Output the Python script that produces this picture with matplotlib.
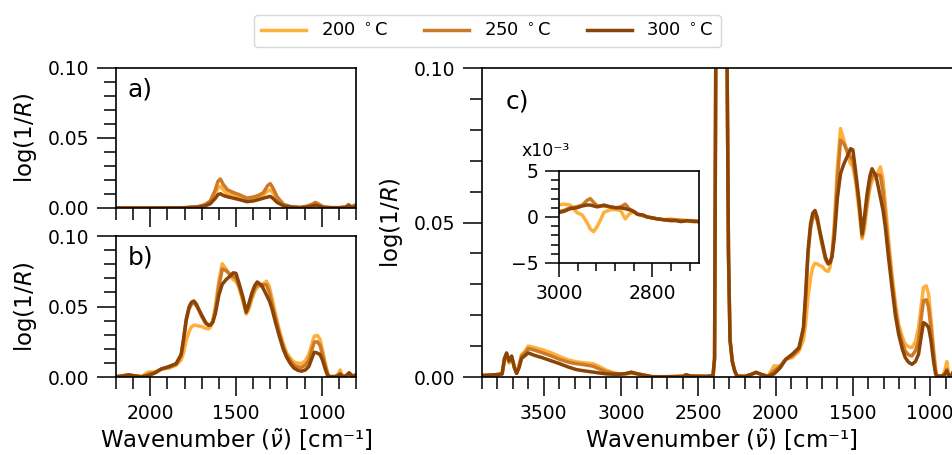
import matplotlib
matplotlib.use("Agg")
import matplotlib.pyplot as plt
from matplotlib.ticker import MultipleLocator, FormatStrFormatter

# series colours / labels
labels = ['200 $^\\circ$C', '250 $^\\circ$C', '300 $^\\circ$C']
colors = ['#FFB03B', '#CC7A28', '#8B4406']

# panel a) (separate measurement, 2200-800 cm-1)
wn_a = [2200, 2000, 1800, 1720, 1680, 1650, 1620, 1605, 1591, 1575, 1550, 1514, 1480,
        1436, 1400, 1368, 1340, 1315, 1300, 1285, 1260, 1222, 1180, 1125, 1080, 1050,
        1037, 1020, 990, 950, 900, 860, 843, 825, 800]
a_200 = [0, 0, 0.0002, 0.0008, 0.002, 0.004, 0.010, 0.014, 0.0155, 0.013, 0.010, 0.0095,
         0.008, 0.006, 0.007, 0.008, 0.0095, 0.012, 0.013, 0.011, 0.006, 0.002, 0.0008,
         0.0003, 0.001, 0.002, 0.003, 0.002, 0.0005, 0.0002, 0.0002, 0.0005, 0.002, 0.0005, 0.001]
a_250 = [0, 0, 0.0002, 0.001, 0.0025, 0.005, 0.013, 0.019, 0.0207, 0.017, 0.013, 0.011,
         0.0095, 0.007, 0.0078, 0.009, 0.011, 0.016, 0.0174, 0.0145, 0.008, 0.0025, 0.001,
         0.0004, 0.0015, 0.003, 0.004, 0.003, 0.0008, 0.0003, 0.0002, 0.0008, 0.0025, 0.0008, 0.0025]
a_300 = [0, 0, 0.0002, 0.0006, 0.0015, 0.003, 0.007, 0.0095, 0.0102, 0.009, 0.008, 0.007,
         0.006, 0.0045, 0.005, 0.006, 0.007, 0.0078, 0.0083, 0.007, 0.004, 0.0015, 0.0006,
         0.0002, 0.0008, 0.0015, 0.002, 0.0015, 0.0004, 0.0002, 0.0002, 0.0004, 0.0015, 0.0004, 0.001]

# full spectrum (panels b and c)
wn = [3900, 3850, 3800, 3770, 3755, 3741, 3725, 3708, 3690, 3676, 3660, 3644, 3620, 3601,
      3560, 3507, 3450, 3397, 3340, 3289, 3240, 3182, 3140, 3096, 3050, 3010, 2970, 2934,
      2900, 2861, 2800, 2700, 2600, 2580, 2550, 2450, 2405, 2395, 2385, 2360, 2318, 2305,
      2295, 2280, 2265, 2250, 2200, 2160, 2127, 2090, 2050, 2010, 1970, 1935, 1892, 1849,
      1820, 1806, 1790, 1774, 1760, 1745, 1730, 1715, 1700, 1677, 1660, 1648, 1635, 1620,
      1600, 1580, 1558, 1535, 1515, 1500, 1483, 1460, 1440, 1425, 1408, 1390, 1376, 1350,
      1322, 1305, 1290, 1270, 1247, 1225, 1204, 1180, 1161, 1140, 1118, 1095, 1075, 1058,
      1043, 1025, 1010, 995, 978, 965, 957, 940, 920, 905, 892, 880, 860, 840, 820, 800]
s_200 = [0.0005, 0.0006, 0.0008, 0.0010, 0.0050, 0.0072, 0.0045, 0.0062, 0.0030, 0.0012,
         0.0040, 0.0072, 0.0085, 0.0100, 0.0095, 0.0088, 0.0078, 0.0066, 0.0055, 0.0049,
         0.0046, 0.0043, 0.0034, 0.0022, 0.0014, 0.0010, 0.0010, 0.0012, 0.0010, 0.0006,
         0.0001, 0.0001, 0.0002, 0.0007, 0.0003, 0.0002, 0.0004, 0.006, 0.13, 0.35, 0.13,
         0.04, 0.012, 0.005, 0.002, 0.0003, 0.0002, 0.0008, 0.0015, 0.0008, 0.0002, 0.0036,
         0.0035, 0.0057, 0.0063, 0.0084, 0.0120, 0.0170, 0.0260, 0.0320, 0.0355, 0.0368,
         0.0366, 0.0361, 0.0358, 0.0345, 0.0342, 0.0355, 0.0400, 0.0500, 0.0680, 0.0804,
         0.0766, 0.0720, 0.0690, 0.0680, 0.0636, 0.0540, 0.0447, 0.0480, 0.0550, 0.0610,
         0.0636, 0.0650, 0.0680, 0.0640, 0.0560, 0.0450, 0.0333, 0.0240, 0.0170, 0.0130,
         0.0106, 0.0098, 0.0095, 0.0115, 0.0160, 0.0230, 0.0290, 0.0295, 0.0268, 0.0190,
         0.0095, 0.0030, 0.0003, 0.0003, 0.0003, 0.0020, 0.0050, 0.0010, 0.0005, 0.0030,
         0.0005, 0.0015]
s_250 = [0.0005, 0.0006, 0.0008, 0.0010, 0.0055, 0.0075, 0.0050, 0.0065, 0.0030, 0.0012,
         0.0035, 0.0068, 0.0078, 0.0092, 0.0087, 0.0078, 0.0068, 0.0057, 0.0048, 0.0043,
         0.0040, 0.0035, 0.0026, 0.0017, 0.0012, 0.0010, 0.0011, 0.0016, 0.0011, 0.0007,
         0.0001, 0.0001, 0.0002, 0.0007, 0.0003, 0.0002, 0.0004, 0.006, 0.13, 0.35, 0.13,
         0.04, 0.012, 0.005, 0.002, 0.0003, 0.0002, 0.0008, 0.0015, 0.0008, 0.0002, 0.0020,
         0.0035, 0.0057, 0.0068, 0.0090, 0.0150, 0.0250, 0.0400, 0.0480, 0.0515, 0.0525,
         0.0505, 0.0470, 0.0430, 0.0380, 0.0365, 0.0368, 0.0390, 0.0470, 0.0640, 0.0766,
         0.0755, 0.0730, 0.0712, 0.0700, 0.0650, 0.0560, 0.0455, 0.0500, 0.0570, 0.0630,
         0.0650, 0.0655, 0.0653, 0.0600, 0.0520, 0.0420, 0.0310, 0.0220, 0.0155, 0.0110,
         0.0084, 0.0072, 0.0068, 0.0085, 0.0117, 0.0190, 0.0247, 0.0250, 0.0225, 0.0160,
         0.0075, 0.0020, 0.0003, 0.0003, 0.0003, 0.0010, 0.0025, 0.0008, 0.0005, 0.0025,
         0.0005, 0.0015]
s_300 = [0.0005, 0.0006, 0.0008, 0.0010, 0.0060, 0.0078, 0.0052, 0.0068, 0.0030, 0.0012,
         0.0030, 0.0060, 0.0070, 0.0078, 0.0070, 0.0062, 0.0052, 0.0043, 0.0032, 0.0024,
         0.0020, 0.0016, 0.0013, 0.0010, 0.0009, 0.0009, 0.0011, 0.0015, 0.0011, 0.0007,
         0.0001, 0.0001, 0.0002, 0.0007, 0.0003, 0.0002, 0.0004, 0.006, 0.13, 0.35, 0.13,
         0.04, 0.012, 0.005, 0.002, 0.0003, 0.0002, 0.0008, 0.0015, 0.0008, 0.0002, 0.0010,
         0.0030, 0.0057, 0.0074, 0.0095, 0.0160, 0.0268, 0.0410, 0.0495, 0.0530, 0.0539,
         0.0515, 0.0475, 0.0440, 0.0387, 0.0368, 0.0370, 0.0390, 0.0450, 0.0580, 0.0658,
         0.0690, 0.0715, 0.0739, 0.0735, 0.0669, 0.0570, 0.0463, 0.0520, 0.0593, 0.0650,
         0.0674, 0.0650, 0.0582, 0.0540, 0.0485, 0.0390, 0.0290, 0.0200, 0.0139, 0.0090,
         0.0063, 0.0048, 0.0041, 0.0050, 0.0074, 0.0130, 0.0176, 0.0170, 0.0160, 0.0120,
         0.0052, 0.0010, 0.0003, 0.0003, 0.0003, 0.0008, 0.0020, 0.0005, 0.0005, 0.0030,
         0.0005, 0.0015]

# inset, C-H stretch region (x10^-3)
wn_in = [3000, 2990, 2976, 2962, 2950, 2940, 2933, 2926, 2918, 2910, 2904, 2890, 2878,
         2868, 2858, 2850, 2840, 2832, 2820, 2811, 2800, 2790, 2775, 2760, 2750, 2739,
         2725, 2712, 2700]
in_200 = [1.3, 1.4, 1.3, 0.5, 0.2, -0.6, -1.3, -1.6, -1.0, -0.2, 0.5, 0.8, 0.8, 0.7, -0.2,
          0.3, 0.6, 0.3, 0.1, 0.0, -0.1, -0.2, -0.3, -0.2, -0.3, -0.3, -0.4, -0.4, -0.5]
in_250 = [0.6, 0.7, 1.0, 1.1, 1.3, 1.8, 2.0, 1.6, 1.2, 1.2, 1.2, 1.1, 1.0, 1.1, 1.4, 0.9,
          0.6, 0.3, 0.2, 0.0, -0.1, -0.2, -0.3, -0.3, -0.3, -0.4, -0.4, -0.4, -0.5]
in_300 = [0.5, 0.6, 0.9, 1.0, 1.2, 1.3, 1.3, 1.2, 1.1, 1.2, 1.3, 1.1, 1.0, 1.0, 0.9, 0.8,
          0.6, 0.3, 0.2, 0.0, -0.1, -0.2, -0.3, -0.4, -0.4, -0.5, -0.4, -0.5, -0.5]

plt.rcParams['font.size'] = 13.5
plt.rcParams['axes.linewidth'] = 1.2

fig = plt.figure(figsize=(9.52, 4.55), dpi=100)
ax_a = fig.add_axes([0.1218, 0.5429, 0.2521, 0.3077])
ax_b = fig.add_axes([0.1218, 0.1714, 0.2521, 0.3099])
ax_c = fig.add_axes([0.5063, 0.1714, 0.5032, 0.6791])
ax_in = fig.add_axes([0.5872, 0.4220, 0.1471, 0.2022])

lw = 2.5
for ys, c, lab in zip([a_200, a_250, a_300], colors, labels):
    ax_a.plot(wn_a, ys, color=c, lw=lw, label=lab)
for ax in (ax_b, ax_c):
    for ys, c in zip([s_200, s_250, s_300], colors):
        ax.plot(wn, ys, color=c, lw=lw)
for ys, c in zip([in_200, in_250, in_300], colors):
    ax_in.plot(wn_in, ys, color=c, lw=lw)

def style(ax, xlim, ylim, xmaj, xmin, ymaj, ymin, big=True):
    ax.set_xlim(*xlim)
    ax.set_ylim(*ylim)
    ax.xaxis.set_major_locator(MultipleLocator(xmaj))
    ax.xaxis.set_minor_locator(MultipleLocator(xmin))
    ax.yaxis.set_major_locator(MultipleLocator(ymaj))
    ax.yaxis.set_minor_locator(MultipleLocator(ymin))
    if big:
        ax.tick_params(which='major', length=13.5, width=1.1, pad=6)
        ax.tick_params(which='minor', length=8.5, width=1.1)
    else:
        ax.tick_params(which='major', length=10, width=1.1, pad=5)
        ax.tick_params(which='minor', length=6, width=1.1)

style(ax_a, (2200, 800), (0, 0.1), 500, 100, 0.05, 0.01)
style(ax_b, (2200, 800), (0, 0.1), 500, 100, 0.05, 0.01)
style(ax_c, (3900, 800), (0, 0.1), 500, 100, 0.05, 0.01)
style(ax_in, (3000, 2700), (-5, 5), 200, 40, 5, 1, big=False)

ax_a.set_xticklabels([])
for ax in (ax_a, ax_b, ax_c):
    ax.yaxis.set_major_formatter(FormatStrFormatter('%.2f'))
    ax.set_ylabel('log(1/$R$)', fontsize=16.5, labelpad=6)
for ax in (ax_b, ax_c):
    ax.set_xlabel('Wavenumber ($\\tilde{\\nu}$) [cm⁻¹]', fontsize=16.5, labelpad=3)

for ax, t in zip((ax_a, ax_b, ax_c), ['a)', 'b)', 'c)']):
    ax.text(0.05, 0.93, t, transform=ax.transAxes, fontsize=18, va='top', ha='left')
fig.text(522 / 952, 1 - 156 / 455, 'x10⁻³', fontsize=12.5, ha='left', va='baseline')

fig.legend(loc='center', bbox_to_anchor=(0.512, 0.932), ncol=3, fontsize=13,
           handlelength=2.5, columnspacing=2.0, frameon=True)

fig.savefig('out.png', dpi=100)
